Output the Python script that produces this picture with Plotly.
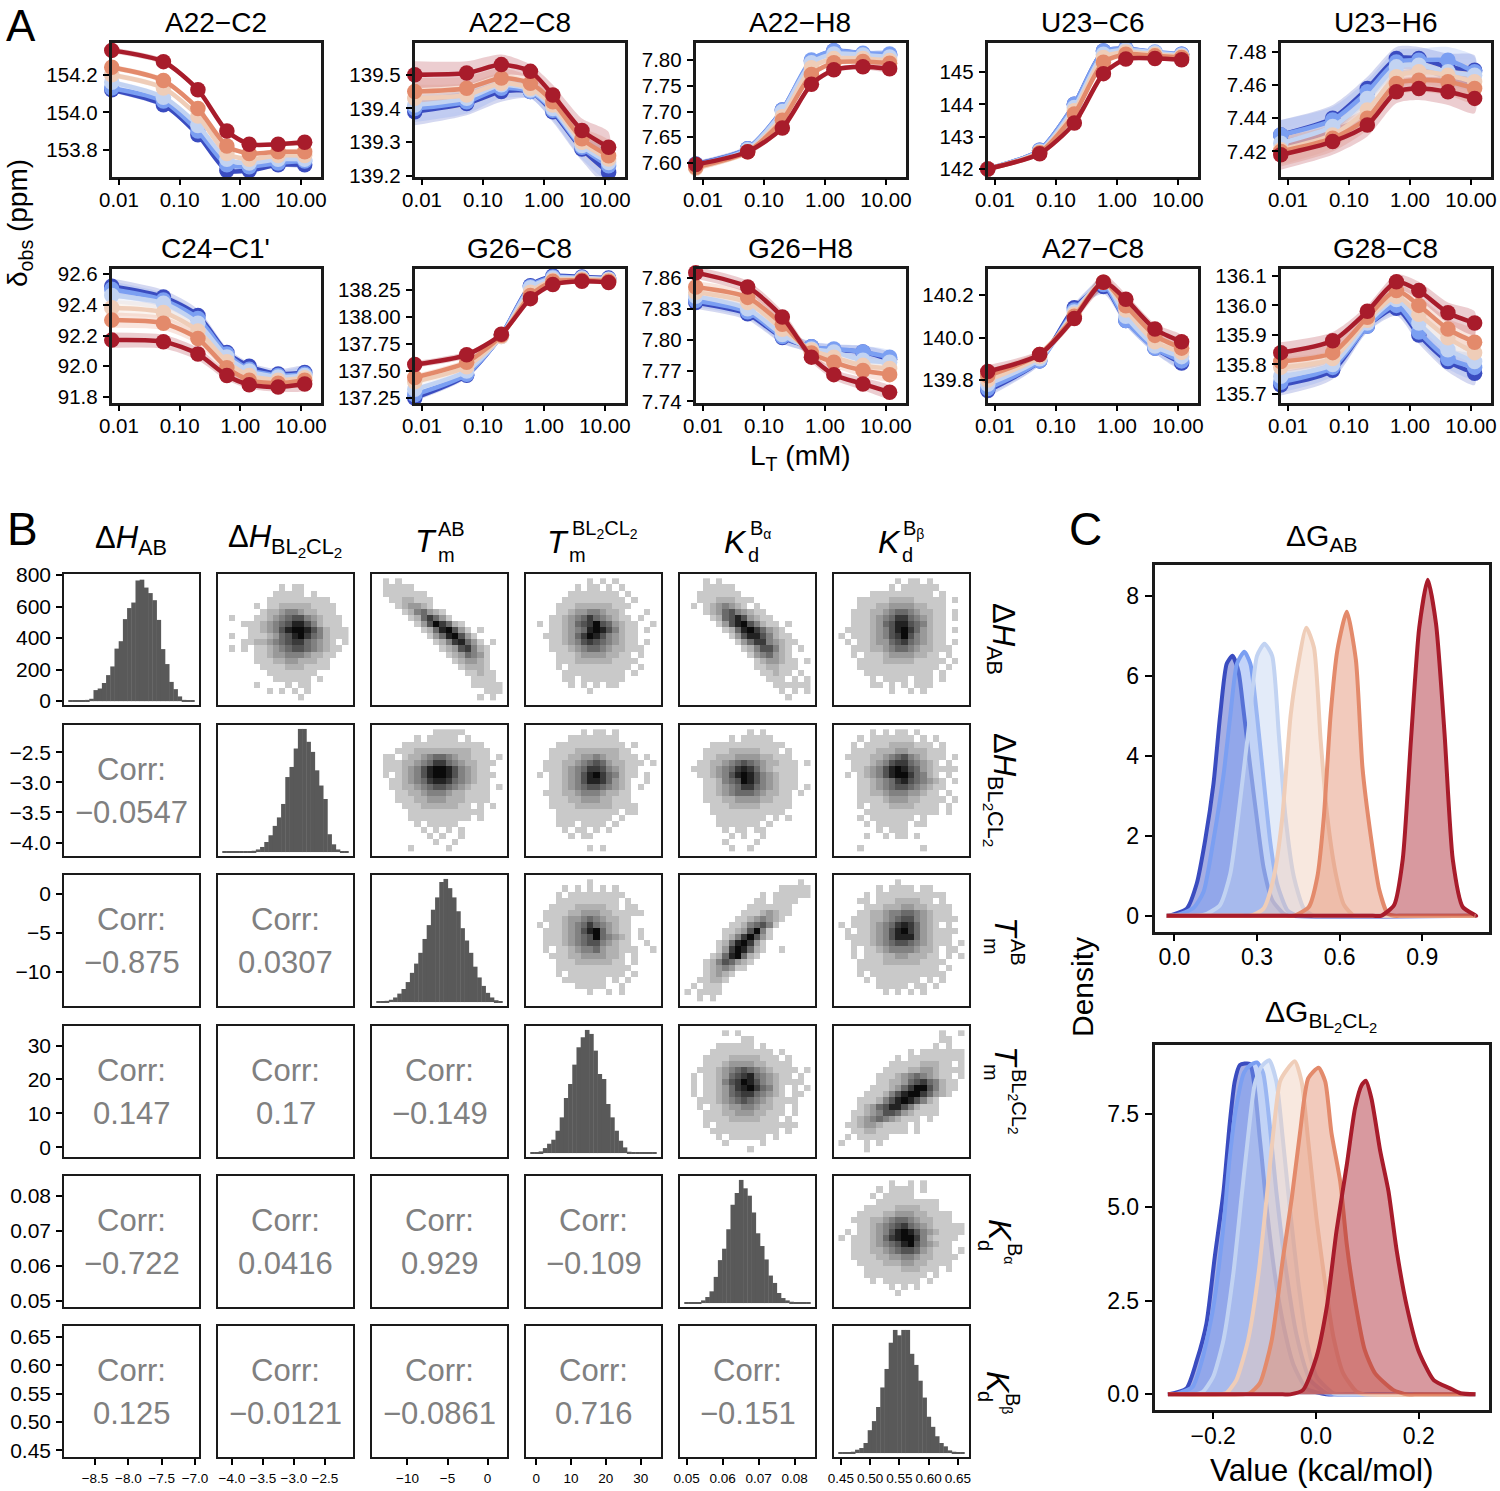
import plotly.graph_objects as go

W, H = 1500, 1491
FONT = "Liberation Sans"
COLORS = ['#3A4CC0', '#7B9FF2', '#C2D3F2', '#EFCDB8', '#E38A6B', '#A81C2B']

def rgba(c, a):
    return f"rgba({int(c[1:3],16)},{int(c[3:5],16)},{int(c[5:7],16)},{a})"

# ---------- Panel A ----------
LT = [0.0076, 0.054, 0.2, 0.6, 1.4, 4.2, 11.5]
X_TICKS = [0.01, 0.1, 1, 10]
X_LABELS = ['0.01', '0.10', '1.00', '10.00']

A22_C2 = [[154.12,154.04,153.88,153.69,153.69,153.72,153.72],[154.13,154.06,153.90,153.72,153.71,153.73,153.74],
          [154.16,154.08,153.93,153.75,153.73,153.75,153.75],[154.20,154.13,153.98,153.78,153.75,153.77,153.77],
          [154.24,154.17,154.02,153.82,153.78,153.79,153.79],[154.33,154.27,154.12,153.90,153.83,153.83,153.84]]
A22_C8 = [[139.39,139.415,139.45,139.45,139.39,139.28,139.21],[139.40,139.42,139.46,139.45,139.395,139.285,139.23],
          [139.41,139.43,139.47,139.455,139.40,139.29,139.24],[139.43,139.44,139.475,139.46,139.41,139.30,139.25],
          [139.45,139.46,139.49,139.475,139.42,139.31,139.26],[139.50,139.505,139.53,139.51,139.44,139.335,139.285]]
A22_H8 = [[7.598,7.628,7.703,7.798,7.818,7.812,7.810],[7.597,7.628,7.703,7.800,7.818,7.813,7.812],
          [7.593,7.626,7.700,7.795,7.812,7.810,7.806],[7.590,7.622,7.690,7.785,7.803,7.803,7.799],
          [7.592,7.622,7.683,7.772,7.795,7.797,7.794],[7.597,7.622,7.668,7.753,7.781,7.787,7.783]]
U23_C6 = [[142.0,142.58,144.0,145.65,145.72,145.6,145.55],[142.0,142.58,144.0,145.65,145.72,145.62,145.55],
          [142.0,142.55,143.9,145.55,145.68,145.6,145.52],[142.0,142.52,143.8,145.45,145.62,145.55,145.48],
          [142.0,142.5,143.7,145.3,145.55,145.5,145.45],[142.0,142.47,143.42,144.95,145.4,145.42,145.38]]
U23_H6 = [[7.430,7.440,7.458,7.476,7.476,7.471,7.469],[7.430,7.439,7.456,7.474,7.475,7.475,7.468],
          [7.425,7.435,7.452,7.471,7.472,7.468,7.466],[7.421,7.430,7.445,7.465,7.468,7.466,7.462],
          [7.420,7.428,7.440,7.461,7.463,7.462,7.458],[7.418,7.426,7.436,7.456,7.458,7.456,7.452]]
C24_C1 = [[92.52,92.45,92.33,92.09,92.00,91.95,91.96],[92.50,92.43,92.31,92.08,91.98,91.94,91.95],
          [92.46,92.41,92.28,92.06,91.97,91.93,91.94],[92.38,92.35,92.23,92.03,91.94,91.91,91.925],
          [92.30,92.28,92.18,91.99,91.91,91.89,91.91],[92.17,92.16,92.08,91.94,91.88,91.865,91.885]]
G26_C8 = [[137.25,137.46,137.83,138.29,138.38,138.37,138.36],[137.28,137.47,137.83,138.28,138.37,138.36,138.35],
          [137.33,137.50,137.82,138.27,138.36,138.36,138.35],[137.40,137.54,137.82,138.23,138.34,138.35,138.34],
          [137.44,137.58,137.83,138.20,138.33,138.34,138.33],[137.56,137.65,137.84,138.17,138.30,138.33,138.32]]
G26_H8 = [[7.836,7.825,7.802,7.793,7.790,7.788,7.781],[7.838,7.827,7.803,7.793,7.791,7.788,7.783],
          [7.842,7.830,7.805,7.791,7.788,7.780,7.778],[7.846,7.836,7.810,7.790,7.783,7.775,7.772],
          [7.851,7.841,7.815,7.787,7.778,7.770,7.766],[7.865,7.851,7.822,7.783,7.766,7.757,7.749]]
A27_C8 = [[139.75,139.89,140.14,140.24,140.08,139.95,139.88],[139.76,139.89,140.13,140.25,140.08,139.95,139.89],
          [139.78,139.90,140.12,140.26,140.10,139.96,139.91],[139.80,139.91,140.11,140.26,140.13,139.98,139.93],
          [139.82,139.92,140.10,140.26,140.15,140.01,139.95],[139.84,139.92,140.09,140.26,140.18,140.04,139.98]]
G28_C8 = [[135.73,135.78,135.93,135.99,135.90,135.81,135.77],[135.74,135.79,135.93,136.0,135.91,135.82,135.79],
          [135.76,135.80,135.94,136.02,135.94,135.85,135.81],[135.79,135.82,135.95,136.03,135.97,135.89,135.84],
          [135.81,135.84,135.96,136.05,136.0,135.92,135.875],[135.84,135.88,135.98,136.08,136.05,135.975,135.94]]

BAND_C2 = [.015,.015,.012,.01,.01,.01,.012]
BAND_C8 = [.04,.035,.03,.02,.03,.035,.045]
BAND_H8 = [.006,.006,.005,.005,.005,.005,.006]
BAND_C6 = [.03,.03,.03,.03,.03,.03,.03]
BAND_H6 = [.009,.008,.007,.007,.007,.008,.009]
BAND_C1 = [.05,.045,.04,.03,.025,.03,.04]
BAND_G8 = [.03,.03,.015,.02,.015,.015,.015]
BAND_GH = [.006,.006,.006,.005,.005,.006,.006]
BAND_A8 = [.03,.02,.02,.035,.025,.025,.03]
BAND_G2 = [.035,.03,.02,.025,.03,.035,.04]

A_PANELS = [
 ('A22−C2', A22_C2, BAND_C2, (110,322,41,178), (153.65,154.38), [153.8,154.0,154.2], ['153.8','154.0','154.2']),
 ('A22−C8', A22_C8, BAND_C8, (413,626,41,178), (139.194,139.6), [139.2,139.3,139.4,139.5], ['139.2','139.3','139.4','139.5']),
 ('A22−H8', A22_H8, BAND_H8, (694,907,41,178), (7.571,7.837), [7.6,7.65,7.7,7.75,7.8], ['7.60','7.65','7.70','7.75','7.80']),
 ('U23−C6', U23_C6, BAND_C6, (986,1199,41,178), (141.72,145.96), [142,143,144,145], ['142','143','144','145']),
 ('U23−H6', U23_H6, BAND_H6, (1279,1492,41,178), (7.404,7.4866), [7.42,7.44,7.46,7.48], ['7.42','7.44','7.46','7.48']),
 ("C24−C1'", C24_C1, BAND_C1, (110,322,267,404), (91.755,92.645), [91.8,92,92.2,92.4,92.6], ['91.8','92.0','92.2','92.4','92.6']),
 ('G26−C8', G26_C8, BAND_G8, (413,626,267,404), (137.194,138.463), [137.25,137.5,137.75,138,138.25], ['137.25','137.50','137.75','138.00','138.25']),
 ('G26−H8', G26_H8, BAND_GH, (694,907,267,404), (7.7375,7.8705), [7.74,7.77,7.8,7.83,7.86], ['7.74','7.77','7.80','7.83','7.86']),
 ('A27−C8', A27_C8, BAND_A8, (986,1199,267,404), (139.687,140.332), [139.8,140,140.2], ['139.8','140.0','140.2']),
 ('G28−C8', G28_C8, BAND_G2, (1279,1492,267,404), (135.666,136.13), [135.7,135.8,135.9,136,136.1], ['135.7','135.8','135.9','136.0','136.1']),
]

# ---------- Panel B ----------
HIST_0 = [1,3,6,5,8,15,70,80,115,165,220,333,380,520,590,625,765,770,720,685,640,515,330,235,122,76,30,8,3,2]
HIST_1 = [2,2,2,2,2,5,5,9,18,35,69,115,179,237,329,513,582,708,842,842,754,685,559,455,363,122,53,18,7,2]
HIST_2 = [3,5,8,15,30,55,85,130,190,250,320,410,500,600,680,780,800,740,680,590,480,400,320,230,160,105,60,30,12,5]
HIST_3 = [1,2,5,15,28,40,67,107,165,207,265,317,347,369,357,307,237,222,147,107,67,37,17,4,1,1,1,1,1,1]
HIST_4 = [1,1,2,3,8,18,35,78,128,162,220,293,328,367,342,320,270,208,170,130,82,60,30,15,8,4,2,1,1,1]
HIST_5 = [1,1,2,4,10,15,30,68,95,137,195,250,328,366,350,366,366,295,262,215,165,108,78,50,30,20,8,4,2,1]
HISTS = [HIST_0, HIST_1, HIST_2, HIST_3, HIST_4, HIST_5]

VAR_RANGE = [(-8.98,-6.925), (-4.24,-2.03), (-14.55,2.55), (-3.2,36.1), (0.0479,0.0859), (0.4365,0.6708)]
X_TICK_B = [([-8.5,-8,-7.5,-7],['−8.5','−8.0','−7.5','−7.0']), ([-4,-3.5,-3,-2.5],['−4.0','−3.5','−3.0','−2.5']),
            ([-10,-5,0],['−10','−5','0']), ([0,10,20,30],['0','10','20','30']),
            ([.05,.06,.07,.08],['0.05','0.06','0.07','0.08']), ([.45,.5,.55,.6,.65],['0.45','0.50','0.55','0.60','0.65'])]
Y_TICK_B = [([0,200,400,600,800],['0','200','400','600','800']), ([-2.5,-3,-3.5,-4],['−2.5','−3.0','−3.5','−4.0']),
            ([0,-5,-10],['0','−5','−10']), ([0,10,20,30],['0','10','20','30']),
            ([.05,.06,.07,.08],['0.05','0.06','0.07','0.08']), ([.45,.5,.55,.6,.65],['0.45','0.50','0.55','0.60','0.65'])]
COLS_B = [(63,200),(217,354),(371,508),(525,662),(679,816),(833,970)]
ROWS_B = [(573,706),(724,857),(874,1007),(1025,1158),(1175,1308),(1325,1458)]

CORR = {(1,0):'−0.0547',(2,0):'−0.875',(2,1):'0.0307',(3,0):'0.147',(3,1):'0.17',(3,2):'−0.149',
        (4,0):'−0.722',(4,1):'0.0416',(4,2):'0.929',(4,3):'−0.109',
        (5,0):'0.125',(5,1):'−0.0121',(5,2):'−0.0861',(5,3):'0.716',(5,4):'−0.151'}

H01 = ["....................",".........1.11.......","........11111.1.....",".......1111111111...",".....1.11222221111..",
"......122344322111..",".1...11234566432111.","...1112345688642111.","....1123468998642111",".1..1112356897542111",
"...112234567754321.1",".1.1.11234566543211.",".....1123344432211..",".....111223322211...","......11112221111...",
".......11111111.....","........111111.1....",".....1....1.11......",".......1.1.1.1......","............1......."]
H02 = [".1.1................",".11111..............",".1111111............","..1122111...........","...123321...........",
"....1245321.........",".....1257531........","......13697521......",".......12589631.1...","........13589631....",
".........12478531.1.","..........12367421..","...........1235431..","............123321..",".............12221..",
"..............11211.","...............1111.","...............11111",".................111","................1.1."]
H03 = [".........1.1.1......",".......1.11.1.1.....","......11111111.1....",".....1111111111.1...","....111222222111....",
"....11233443221...1.","...1123457543211.1..",".1.11235679653211..1","...11234589864211.1.","..111235798643211...",
"...11234676543211.1.","...111234554322111..","....111233332211.1..","....1112222221111...","....1.1111111111.1..",
".....1111111111.1...",".....11.1111111.....","......1.1.1.11......",".........1..........","...................."]
H04 = ["...1.1..............","...11111............","..1111111...........","..111222111.........",".1.1234321.1........",
"...1235643211.......","....1256863211......",".....1368964211.1...","......1258975321....",".......1368864211...",
"........1357743211..",".........12466421.1.","..........1345321...","...........1233211.1","...........1122111..",
"............11211.1.",".............111.1.1","..............111111","...............1.1.1","................1..."]
H05 = [".........1.11.1.....","........1.111111....",".....1111111111.1...","...11111222211111.1.","...11122333322111...",
"..111223455432211.1.","..111234577543211.1.","..111235688654211...",".1111234689753211.1.","1.111234679643211...",
".1.11233567543211.1.","..1112234554322111..","..1.111233332211.1..","...11112222211111.1.","...1111111111111.1..",
"....11111111111.1...",".....1.1111.111.1...",".....11.1.1.111.....","........1..1.1......","...................."]
H12 = [".........11111......","......1.11111.1.....","....1111111111111...","...111222222222111..",".11.12234554322111.1",
".111223457754322111.",".11123468998643211..",".1.1234689986432111.","..1123457887543211..","..1122345665432111.1",
"...112234443221111..","...111223332221111..","....11122222211.1.1.",".....111111111111...",".....1111111111.1...",
"......1.11111.......",".......1.1.1.1......","........1.1..1......",".........1..1.......",".....1.....1........"]
H13 = ["........1.11.1......","......11111111......","....11111111111.1...","...1111222222211....","...11122334322111.1.",
"..1112234565322111.1","..111234577643211...",".1.11234689754211.1.","...1123468875321..1.","...1123456654321.1..",
"..11122344432211....","...1112233322111....","...11112222221111...","....1111111111.11...","....111111111.1.....",
"....111.1111.1......",".....1.11.1.1.......","......1.11..........","....................",".........1.1........"]
H14 = ["..........1.1.......",".......1.11111......","....111111111111....","...111122222111.1...","...11222333322111...",
"..1122345654322111.1",".11123457875321111..","..1123468986432111..","...112456986432111..","...112345775432111.1",
"...11234555432211.1.","...11122333322111...","....1112222211111...","....111111111111....",".....11111111.1.1...",
".....1111111.1......","......1.11.11.......",".......1.1..1.......","......1....1........",".......1..1........."]
H15 = [".....1.1.11.1.......","...1.1111111.1.1....","..1.11112222111.1...","..111122233222111...",".1111223456432111.1.",
"..11123467754321.1..","..11234689865321111.",".1.1234689975421.1..","...11234578654321.1.","...11234566543211...",
"...1122344433211.1..","...11112333221111.1.","...1.11122221111.1..","....111111111111.1..","...1.1111111.1......",
"....1.11111.11......","......1.111.........","....1..1.11.1.......","....................","...1.........1......"]
H23 = [".........1..........",".....1.1.1.1.1......","....1.111111111.....","....1111111111.1....","...11112222211.11...",
"..1111223332211111..","..11123345432211....",".1.1123457543211....","..11123468953211.1..","..11123456954321.1..",
"..11123456643211..1.","..1.1123445322111..1","...111223333221.1...","....11122222211.1...","....111111111111....",
"....1.111111111.1...",".....1111111.1.1....",".......11111..1.....",".........1..1.1.....","...................."]
H24 = ["..................1.","...............11111","............1.111111","...........11.1111..","..........1111111...",
".........11123211...","........11234321....",".......11245641.....","......11236941......","......12479631......",
".....12589731.......",".....13798521..1....","....12589521........","...12465321.........","...1234311..........",
"...12321............","..11221.............",".1.111..............","1.1111..............","..1.1..............."]
H25 = [".........1..........","......1.1111.11.....","....1.11111111111...","...11.111222211.1...","....11122233221111..",
"...112234455432111..","..11122345664321111.","1.11123457875321.1..",".1.1123468975321111.",".11112346888532111..",
"..1112345665432111.1","..1.112344443221.11.","..1.111223322211.1.1","...11112222221111...","...1111111111111.1..",
"...1.111111111111...","....1.1111111.1.1...","......11111.11.1....",".......1.1.1.1......","...................."]
H34 = ["......1.1...........",".........11.........",".....111111.1.......","....1111111111.1....","...111122222111.1...",
"...11123333221111...","..1112345654321111.1",".1.11235678543211.1.",".1.1124679864321111.",".1.1123578975421.1.1",
".1.1123567754321.11.","..1112345654321111..","..1.112334432211.1..","...1112233322111.1..","...111122222111.1...",
"...1.1111111111111..","....11111111111.1...",".....1.111111.1.....","......1.....1.......","..........1........."]
H35 = ["................1..1","................11..","...............1.1..","...........1.1111111",".........1.111111111",
"........1111122211.1",".......1111223321111","......111234543211.1","......1122356754211.",".....11123579964211.",
"....11124689975321..","...1112468986421....","...1235688642111....","..11234665321111....","..12345432111.1.....",
".1123321111.1.......","..112211111.1.......",".1.11111............","1...1.1.............","....1..............."]
H45 = ["........1..1.1......","......1.1111.1......",".....1.11111........","......1111111111....","....111112222111....",
"...111122333221111..","..1112234554322111..","...11234567543211111",".1.11234689864321111","1.11123578997421111.",
"..1112345689643211..","..1112234566532111.1","..11112233443221111.","...111122233221111..","....111111222111.1..",
"....1111111111.1....",".....1.111111.1.....","........1.1.1.......",".........1..........","...................."]
HEATS = {(0,1):H01,(0,2):H02,(0,3):H03,(0,4):H04,(0,5):H05,(1,2):H12,(1,3):H13,(1,4):H14,(1,5):H15,
         (2,3):H23,(2,4):H24,(2,5):H25,(3,4):H34,(3,5):H35,(4,5):H45}

# ---------- Panel C ----------
AB_X = [[-.022,.045,.081,.112,.142,.166,.19,.211,.233,.25,.276,.3,.324,.355,.397],
        [.01,.07,.106,.142,.179,.203,.227,.254,.276,.3,.324,.349,.373,.41,.446],
        [.118,.166,.203,.239,.27,.3,.327,.355,.379,.403,.434,.47,.507],
        [.276,.324,.361,.391,.422,.446,.479,.507,.531,.555,.586,.616,.652],
        [.434,.488,.519,.543,.567,.592,.626,.659,.683,.713,.744,.774,.798],
        [.75,.798,.829,.859,.889,.92,.95,.981,1.011,1.047,1.096]]
AB_Y = [[0,.18,.8,1.9,3.3,5,6.3,6.5,6.1,5.2,3.7,2.4,1.2,.4,.05],
        [.02,.2,.6,1.9,3.55,5,6.3,6.6,6.3,5,3.4,1.8,.8,.14,0],
        [.05,.27,1.05,2.9,4.7,6.5,6.8,6.5,4.55,2.5,.97,.18,0],
        [0,.18,.97,2.4,5,6.15,7.2,6.7,4.4,2.5,1.05,.27,0],
        [0,.22,.97,2.5,5,6.65,7.6,6.4,3.7,2,.65,.06,0],
        [0,.27,1.4,4.4,7.2,8.4,7.3,4.55,1.4,.22,0]]
BL_X = [[-.288,-.252,-.232,-.213,-.197,-.18,-.168,-.158,-.148,-.129,-.109,-.096,-.08,-.064,-.044,-.018,.02],
        [-.27,-.24,-.22,-.2,-.18,-.168,-.155,-.14,-.128,-.115,-.103,-.09,-.077,-.057,-.038,-.012,.02],
        [-.22,-.2,-.18,-.161,-.145,-.132,-.119,-.106,-.091,-.077,-.064,-.051,-.034,-.018,.001,.034],
        [-.174,-.155,-.132,-.112,-.096,-.083,-.07,-.057,-.041,-.028,-.015,.001,.018,.034,.053,.079],
        [-.129,-.109,-.086,-.064,-.047,-.031,-.015,.005,.018,.03,.047,.06,.076,.095,.115,.15,.177],
        [-.05,-.025,.001,.021,.04,.06,.076,.089,.097,.108,.125,.141,.157,.177,.199,.229,.261,.281,.31]]
BL_Y = [[0,.16,.9,1.9,3.66,5.4,7.2,8.36,8.8,8.83,6.8,5,3.2,1.9,.8,.15,0],
        [.02,.2,1,2.3,4.5,6.3,7.7,8.6,8.8,8.87,8.6,7.2,5.4,3.2,1.6,.4,.03],
        [.07,.47,1.45,3.2,5.25,6.9,8.3,8.76,8.93,8.36,6.76,5,2.95,1.45,.47,.03],
        [.04,.38,1.45,3.2,5.25,7,8.36,8.67,8.9,8.36,6.76,4.7,2.95,1.53,.56,.07],
        [.03,.3,1.45,3.66,5.25,7,8.45,8.73,8.36,7,5.7,4,2.5,1.18,.56,.12,0],
        [0,.12,1,2.33,4.37,6.14,7.65,8.27,8.38,7.9,6.5,5.43,3.84,2.33,1.18,.38,.16,.03,0]]

# ---------- Build ----------
fig = go.Figure()
axes = {}
notes = []
n_ax = 0
BLK = '#1a1a1a'

def T(px, py, text, size, color='black', angle=0, xa='center'):
    notes.append(dict(x=px/W, y=1-py/H, xref='paper', yref='paper', text=text, showarrow=False,
                      xanchor=xa, yanchor='middle', textangle=angle, font=dict(family=FONT, size=size, color=color)))

def add_axes(box, xr, yr, xt=None, yt=None, xfs=20.5, yfs=20.5, lw=2.5, xtype='linear', tl=6, xso=0, yso=1, d=1.5):
    # box gives the frame in pixels; the plot area is inset so the frame line lands on it
    global n_ax
    n_ax += 1
    l, r, t, b = box
    s = '' if n_ax == 1 else str(n_ax)
    kx = (xr[1]-xr[0])/(r-l)
    ky = (yr[1]-yr[0])/(b-t)
    xr2 = [xr[0]+d*kx, xr[1]-d*kx]
    yr2 = [yr[0]+d*ky, yr[1]-d*ky]
    base = dict(showgrid=False, zeroline=False, showline=True, mirror=True, linecolor=BLK, linewidth=lw, fixedrange=True)
    ax = dict(base, domain=[(l+d)/W, (r-d)/W], range=xr2, anchor='y'+s, type=xtype)
    ay = dict(base, domain=[1-(b-d)/H, 1-(t+d)/H], range=yr2, anchor='x'+s)
    for a, tk, fs, so in ((ax, xt, xfs, xso), (ay, yt, yfs, yso)):
        if tk:
            a.update(tickmode='array', tickvals=tk[0], ticktext=tk[1], ticks='outside', ticklen=tl, tickwidth=2.4,
                     tickcolor='black', tickfont=dict(family=FONT, size=fs, color='black'), ticklabelstandoff=so)
        else:
            a.update(showticklabels=False, ticks='')
    axes['xaxis'+s] = ax
    axes['yaxis'+s] = ay
    return 'x'+s, 'y'+s

for title, series, band, box, yr, yv, yl in A_PANELS:
    xa, ya = add_axes(box, (-2.148, 1.346), yr, (X_TICKS, X_LABELS), (yv, yl), xtype='log', xso=-3)
    for c, vals in zip(COLORS, series):
        lo = [v-b for v, b in zip(vals, band)]
        hi = [v+b for v, b in zip(vals, band)]
        fig.add_trace(go.Scatter(x=LT+LT[::-1], y=hi+lo[::-1], mode='lines', fill='toself', fillcolor=rgba(c, .22),
                                 line=dict(width=0, shape='spline', smoothing=.7), xaxis=xa, yaxis=ya,
                                 showlegend=False, hoverinfo='skip'))
    for c, vals in zip(COLORS, series):
        fig.add_trace(go.Scatter(x=LT, y=vals, mode='lines', line=dict(color=c, width=4.5, shape='spline', smoothing=.7),
                                 xaxis=xa, yaxis=ya, showlegend=False))
        fig.add_trace(go.Scatter(x=LT, y=vals, mode='markers', marker=dict(color=c, size=15.5), cliponaxis=False,
                                 xaxis=xa, yaxis=ya, showlegend=False))
    T((box[0]+box[1])/2, box[2]-19, title, 28)

for i, (rt, rb) in enumerate(ROWS_B):
    for j, (cl, cr) in enumerate(COLS_B):
        xt = X_TICK_B[j] if i == 5 else None
        box = (cl, cr, rt, rb)
        if i == j:
            m = max(HISTS[i])
            yr = (-.04*m, (1.055 if i == 0 else 1.04)*m)
            yt = Y_TICK_B[0] if (i == 0) else None
            xa, ya = add_axes(box, VAR_RANGE[j], yr, xt, yt, xfs=13.5, yfs=21, lw=1.5, xso=2, d=1)
            L, R = VAR_RANGE[j]
            lo = L+.04*(R-L)
            w = (R-L)*.92/len(HISTS[i])
            fig.add_trace(go.Bar(x=[lo+(k+.5)*w for k in range(len(HISTS[i]))], y=HISTS[i], width=w*1.1,
                                 marker=dict(color='#595959', line=dict(width=0)), xaxis=xa, yaxis=ya, showlegend=False))
        elif i > j:
            yt = Y_TICK_B[i] if j == 0 else None
            xa, ya = add_axes(box, VAR_RANGE[j], VAR_RANGE[i], xt, yt, xfs=13.5, yfs=21, lw=1.5, xso=2, d=1)
            fig.add_trace(go.Scatter(x=[None], y=[None], mode='markers', xaxis=xa, yaxis=ya, showlegend=False))
            my = (rt+rb)/2
            T((cl+cr)/2, my-21, 'Corr:', 31, '#808080')
            T((cl+cr)/2, my+22, CORR[(i, j)], 31, '#808080')
        else:
            xa, ya = add_axes(box, VAR_RANGE[j], VAR_RANGE[i], xt, None, xfs=13.5, lw=1.5, xso=2, d=1)
            rows = HEATS[(i, j)]
            z = [[None if ch == '.' else int(ch) for ch in r[:20].ljust(20, '.')] for r in rows[::-1]]
            L, R = VAR_RANGE[j]
            B, Tp = VAR_RANGE[i]
            dx = (R-L)*.92/20
            dy = (Tp-B)*.92/20
            fig.add_trace(go.Heatmap(z=z, x0=L+.04*(R-L)+dx/2, dx=dx, y0=B+.04*(Tp-B)+dy/2, dy=dy, zmin=1, zmax=9,
                                     colorscale=[[0, '#c9c9c9'], [1, '#0a0a0a']], showscale=False, xaxis=xa, yaxis=ya,
                                     xgap=0, ygap=0))

def density(xs, ys, c, lo, hi, gap, xa, ya):
    # every curve runs along the baseline out to the full data range
    px = [lo] + ([xs[0]-gap] if xs[0]-gap > lo else [])
    qx = ([xs[-1]+gap] if xs[-1]+gap < hi else []) + [hi]
    fig.add_trace(go.Scatter(x=px+xs+qx, y=[0]*len(px)+ys+[0]*len(qx), mode='lines', fill='tozeroy', fillcolor=rgba(c, .45),
                             line=dict(color=c, width=4, shape='spline', smoothing=.6), xaxis=xa, yaxis=ya, showlegend=False))

BOX_C1 = (1153, 1490, 563, 933)
BOX_C2 = (1153, 1490, 1043, 1411)
xa, ya = add_axes(BOX_C1, (-.0776, 1.146), (-.43, 8.82), ([0, .3, .6, .9], ['0.0', '0.3', '0.6', '0.9']),
                  ([0, 2, 4, 6, 8], ['0', '2', '4', '6', '8']), xfs=23, yfs=23, tl=7, xso=-4)
for c, xs, ys in zip(COLORS, AB_X, AB_Y):
    density(xs, ys, c, -.028, 1.093, .03, xa, ya)
xa, ya = add_axes(BOX_C2, (-.317, .3385), (-.445, 9.39), ([-.2, 0, .2], ['−0.2', '0.0', '0.2']),
                  ([0, 2.5, 5, 7.5], ['0.0', '2.5', '5.0', '7.5']), xfs=23, yfs=23, tl=7, xso=-3)
for c, xs, ys in zip(COLORS, BL_X, BL_Y):
    density(xs, ys, c, -.288, .31, .015, xa, ya)

# Texts
T(21, 25.5, 'A', 44); T(22, 529, 'B', 46); T(1085, 529, 'C', 46)
T(19, 223, 'δ<sub>obs</sub> (ppm)', 28, angle=-90)
T(800, 458, 'L<sub>T</sub> (mM)', 28)
T(1082, 987, 'Density', 30, angle=-90)
T(1321, 1470, 'Value (kcal/mol)', 31.5)
T(1321, 537, 'ΔG<sub>AB</sub>', 30)
T(1321, 1015, 'ΔG<sub>BL<sub>2</sub>CL<sub>2</sub></sub>', 30)

SUBFS = 20
BL2 = 'BL<sub>2</sub>CL<sub>2</sub>'
T(131, 540, 'Δ<i>H</i><sub>AB</sub>', 31)
T(285, 540, 'Δ<i>H</i><sub>BL<sub>2</sub>CL<sub>2</sub></sub>', 31)
T(426, 541, '<i>T</i>', 32); T(451, 529, 'AB', SUBFS); T(446, 555, 'm', SUBFS)
T(558, 542, '<i>T</i>', 32); T(605, 530, BL2, SUBFS); T(577, 555, 'm', SUBFS)
T(735, 542, '<i>K</i>', 32); T(760, 530, 'B<sub>α</sub>', SUBFS); T(753, 555, 'd', SUBFS)
T(889, 542, '<i>K</i>', 32); T(914, 530, 'B<sub>β</sub>', SUBFS); T(908, 555, 'd', SUBFS)

T(1001, 639, 'Δ<i>H</i><sub>AB</sub>', 31, angle=90)
T(1001, 790, 'Δ<i>H</i><sub>BL<sub>2</sub>CL<sub>2</sub></sub>', 31, angle=90)
T(1006, 928, '<i>T</i>', 32, angle=90); T(1018, 952, 'AB', SUBFS, angle=90); T(991, 947, 'm', SUBFS, angle=90)
T(1006, 1057, '<i>T</i>', 32, angle=90); T(1018, 1102, BL2, SUBFS, angle=90); T(991, 1073, 'm', SUBFS, angle=90)
T(1000, 1230, '<i>K</i>', 32, angle=90); T(1014, 1253, 'B<sub>α</sub>', SUBFS, angle=90); T(985, 1246, 'd', SUBFS, angle=90)
T(998, 1382, '<i>K</i>', 32, angle=90); T(1012, 1403, 'B<sub>β</sub>', SUBFS, angle=90); T(985, 1397, 'd', SUBFS, angle=90)

fig.update_layout(width=W, height=H, margin=dict(l=0, r=0, t=0, b=0, pad=0, autoexpand=False), paper_bgcolor='white',
                  plot_bgcolor='white', font=dict(family=FONT), annotations=notes, barmode='overlay', showlegend=False,
                  hovermode=False, **axes)
fig.write_html("out.html", config=dict(displayModeBar=False),
               post_script="document.body.style.margin='0';document.body.style.overflow='hidden';")
